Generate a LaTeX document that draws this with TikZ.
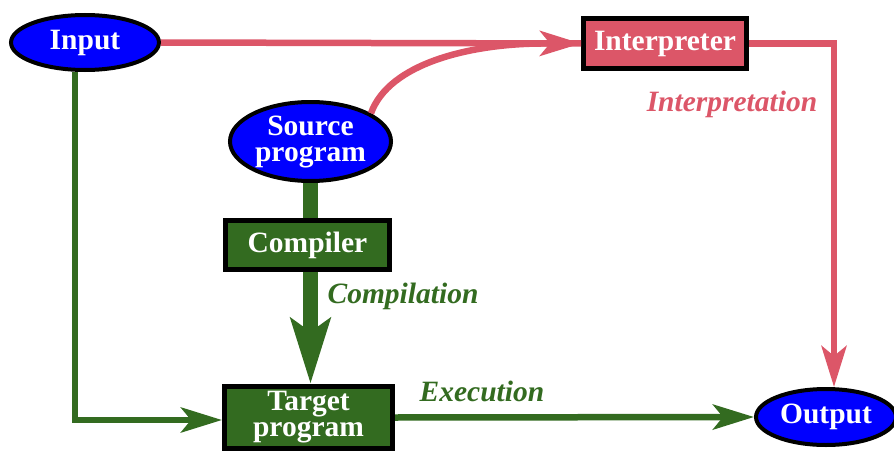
\documentclass[tikz,border=0pt]{standalone}
\usepackage{fontspec}
\setmainfont{Liberation Serif}
\usetikzlibrary{arrows.meta,calc,shapes.geometric}
\definecolor{cred}{RGB}{220,86,104}
\definecolor{cgreen}{RGB}{51,107,32}
\definecolor{cblue}{RGB}{0,0,255}
\begin{document}
\begin{tikzpicture}[x=1pt,y=-1pt,
  lbl/.style={font=\fontsize{29.5}{26}\selectfont\bfseries, text=white, align=center, inner sep=0pt},
  ell/.style={lbl, ellipse, draw=black, line width=4pt, fill=cblue},
  box/.style={lbl, rectangle, draw=black, line width=5pt},
  itl/.style={font=\fontsize{29.5}{30}\selectfont\bfseries\itshape, inner sep=0pt},
  redline/.style={draw=cred, line width=6.5pt},
  gline/.style={draw=cgreen, line width=6.5pt},
  thickg/.style={draw=cgreen, line width=15pt},
  tipA/.style={-{Stealth[length=41pt,width=25pt,inset=10pt]}},
  tipB/.style={-{Stealth[length=65pt,width=39pt,inset=13pt]}}]
\clip (0,0) rectangle (894,452);
\node[ell, minimum width=148pt, minimum height=55pt] (inp) at (85,42.5) {Input};
\node[ell, minimum width=161pt, minimum height=79pt] (src) at (310.5,141.5) {Source\\program};
\node[box, fill=cgreen, minimum width=164pt, minimum height=49pt] (cmp) at (307.5,245) {Compiler};
\node[box, fill=cgreen, minimum width=168pt, minimum height=62pt] (tgt) at (308.5,417.5) {Target\\program};
\node[box, fill=cred, minimum width=163pt, minimum height=50pt] (int) at (665,43.5) {Interpreter};
\node[ell, minimum width=140pt, minimum height=56pt] (out) at (826,417) {Output};
\coordinate (merge) at ($(int.west)+(-40,0)$);
% red connectors
\draw[redline] (src.25) .. controls +(18,-50) and (470,44) .. (merge) -- (int.west);
\draw[redline, tipA] (inp.east) -- (int.west);
\draw[redline, tipA] (int.east) -| ([xshift=8pt]out.north);
% green connectors
\draw[gline, tipA] ([xshift=-10pt]inp.south) |- ([yshift=-2.5pt]tgt.west);
\draw[thickg] (src.south) -- (src.south |- cmp.north);
\draw[thickg, tipB] (cmp.south -| src.south) -- (src.south |- tgt.north);
\draw[gline, tipA] (tgt.east) -- (out.west);
% labels
\node[itl, text=cred] (l1) at (732,104) {Interpretation};
\node[itl, text=cgreen] (l2) at (403,296) {Compilation};
\node[itl, text=cgreen] (l3) at (482,391) {Execution};
\end{tikzpicture}
\end{document}
